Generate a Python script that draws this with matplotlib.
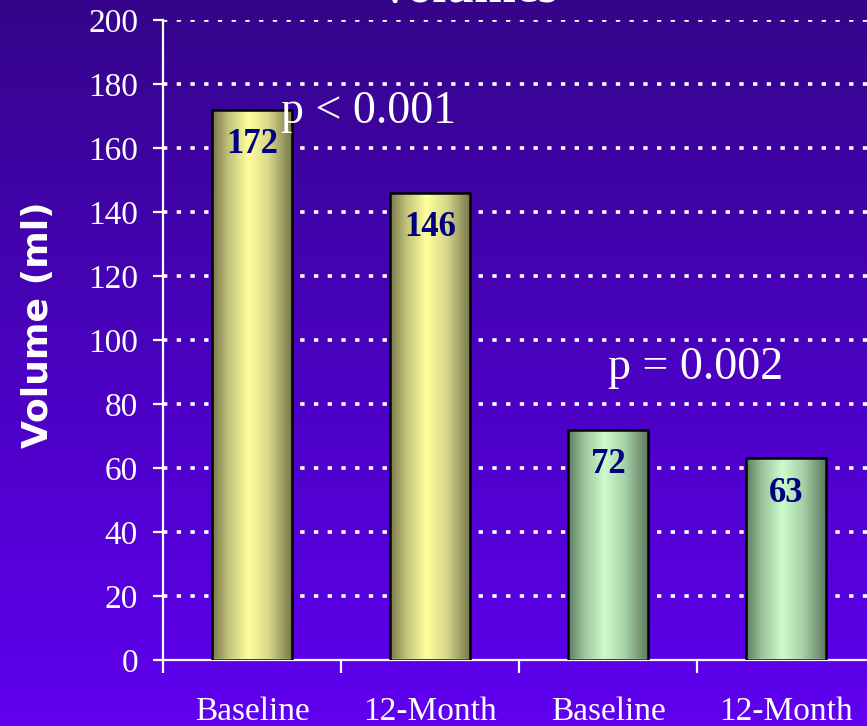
"""
Volumes before / after - bar chart with gradient bars
"""
import matplotlib.pyplot as plt
import numpy as np
from matplotlib.colors import LinearSegmentedColormap

# data
categories = ['Baseline', '12-Month', 'Baseline', '12-Month']
volumes = [172, 146, 72, 63]
bar_group = ['yellow', 'yellow', 'green', 'green']
p_labels = ['p < 0.001', 'p = 0.002']
y_ticks = list(range(0, 201, 20))

plt.rcParams['font.family'] = ['Liberation Serif', 'DejaVu Serif']

W, H = 867, 726
fig = plt.figure(figsize=(W / 100, H / 100), dpi=100)

# background gradient (dark indigo at top -> violet at bottom)
bg = fig.add_axes([0, 0, 1, 1], zorder=-10)
bg_cmap = LinearSegmentedColormap.from_list('bg', ['#35058a', '#4a02c0', '#6000f0'])
bg.imshow(np.linspace(0, 1, 256).reshape(-1, 1), aspect='auto', cmap=bg_cmap,
          extent=[0, 1, 0, 1], origin='upper')
bg.axis('off')

ax = fig.add_axes([163 / W, 1 - 660 / H, 712 / W, 640 / H])
ax.set_facecolor('none')

x = np.arange(len(categories))
bars = ax.bar(x, volumes, width=0.455, color='none', edgecolor='black',
              linewidth=1.8, zorder=3)

# horizontal shading of each bar (dark edges, light centre)
shades = {
    'yellow': LinearSegmentedColormap.from_list(
        'yel', [(0, '#77774a'), (0.2, '#c2c27a'), (0.45, '#ffff9e'),
                (0.7, '#d8d88a'), (1, '#74744a')]),
    'green': LinearSegmentedColormap.from_list(
        'grn', [(0, '#5f7c60'), (0.2, '#9cc59e'), (0.45, '#ccfccc'),
                (0.7, '#a8d2a9'), (1, '#5c765d')]),
}
grad = np.linspace(0, 1, 200).reshape(1, -1)
for b, g in zip(bars, bar_group):
    x0, w, h = b.get_x(), b.get_width(), b.get_height()
    im = ax.imshow(grad, aspect='auto', cmap=shades[g],
                   extent=[x0, x0 + w, 0, h], zorder=2.5)
    im.set_clip_path(b)

# value labels inside bars
for xi, v in zip(x, volumes):
    ax.annotate(str(v), (xi, v), xytext=(0, -25), textcoords='offset points',
                ha='center', va='center', fontsize=25, fontweight='bold',
                color='#000080', zorder=4)

# p-values
ax.text(0.655, 171.4, p_labels[0], fontsize=33, color='white',
        ha='center', va='center', zorder=4)
ax.text(2.49, 91.4, p_labels[1], fontsize=33, color='white',
        ha='center', va='center', zorder=4)

ax.set_xlim(-0.5, 3.5)
ax.set_ylim(0, 200)

for s in ['top', 'right']:
    ax.spines[s].set_visible(False)
for s in ['left', 'bottom']:
    ax.spines[s].set_color('white')
    ax.spines[s].set_linewidth(1.6)

ax.set_yticks(y_ticks)
ax.tick_params(axis='y', direction='out', length=7, width=1.6, color='white',
               labelcolor='white', labelsize=24, pad=11)

# dotted white grid behind bars (none on the zero line)
ax.set_axisbelow(True)
ax.yaxis.grid(True, color='white', linestyle=(0, (1.2, 2.6)), linewidth=2.6)
ax.get_ygridlines()[0].set_visible(False)

# ticks between categories, labels centred under bars
ax.set_xticks(np.arange(-0.5, 4, 1))
ax.set_xticklabels([])
ax.set_xticks(x, minor=True)
ax.set_xticklabels(categories, minor=True)
ax.tick_params(axis='x', which='major', direction='out', length=9, width=1.6,
               color='white')
ax.tick_params(axis='x', which='minor', length=0, pad=26, labelsize=24,
               labelcolor='white')

fig.text(38 / W, 1 - 325 / H, 'Volume (ml)', rotation=90, ha='center', va='center',
         fontsize=26, fontweight='bold', color='white', family='DejaVu Sans')

# title, mostly cut off by the top edge
fig.text(467 / W, 1 - 2 / H, 'Volumes', ha='center', va='baseline', fontsize=36,
         fontweight='bold', color='white')

fig.savefig('out.png', dpi=100)
